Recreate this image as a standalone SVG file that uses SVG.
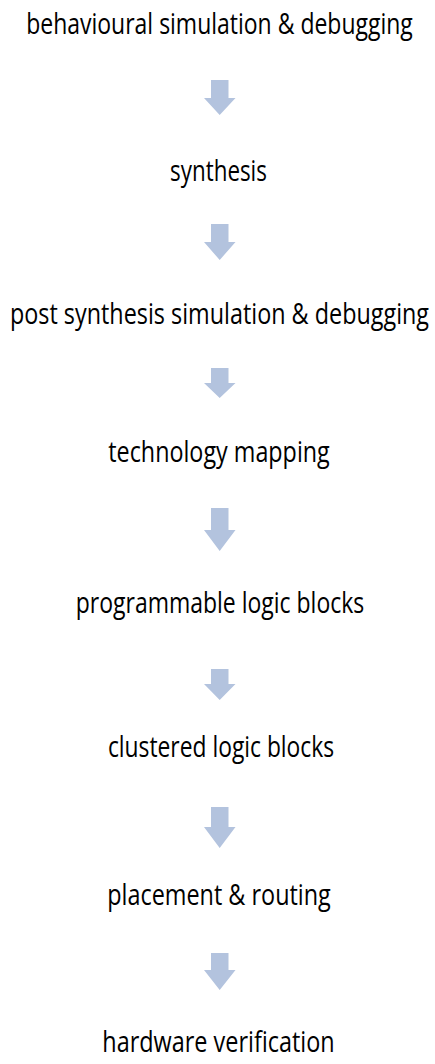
<svg xmlns="http://www.w3.org/2000/svg" width="435" height="1064" viewBox="0 0 435 1064">
  <style>
    .step { font-family: "Open Sans", "Liberation Sans", sans-serif; font-size: 28px; fill: #000000; text-anchor: middle; }
    .flow { fill: #b3c3de; stroke: none; }
  </style>
  <rect width="435" height="1064" fill="#ffffff"/>

  <!-- each step label is narrowed horizontally and slightly heightened for a condensed look -->
  <g id="node-behavioural">
    <text class="step" transform="translate(219.5 34) scale(0.821 1.06)">behavioural simulation &amp; debugging</text>
  </g>
  <g id="node-synthesis">
    <text class="step" transform="translate(218.5 180.5) scale(0.800 1.06)">synthesis</text>
  </g>
  <g id="node-post-synthesis">
    <text class="step" transform="translate(219.5 324) scale(0.835 1.06)">post synthesis simulation &amp; debugging</text>
  </g>
  <g id="node-technology-mapping">
    <text class="step" transform="translate(219 462) scale(0.833 1.06)">technology mapping</text>
  </g>
  <g id="node-programmable-logic">
    <text class="step" transform="translate(220 613) scale(0.821 1.06)">programmable logic blocks</text>
  </g>
  <g id="node-clustered-logic">
    <text class="step" transform="translate(221 757) scale(0.815 1.06)">clustered logic blocks</text>
  </g>
  <g id="node-placement-routing">
    <text class="step" transform="translate(219 905) scale(0.836 1.06)">placement &amp; routing</text>
  </g>
  <g id="node-hardware-verification">
    <text class="step" transform="translate(218.5 1052) scale(0.837 1.06)">hardware verification</text>
  </g>

  <g id="connectors">
    <!-- block arrows: shaft x 211..228.5, head x 204..235.5 -->
    <path class="flow" d="M211 80 H228.5 V98 H235.5 L219.7 115 L204 98 H211 Z"/>
    <path class="flow" d="M211 224 H228.5 V242 H235.5 L219.7 260 L204 242 H211 Z"/>
    <path class="flow" d="M211 368 H228.5 V383 H235.5 L219.7 398 L204 383 H211 Z"/>
    <path class="flow" d="M211 508 H228.5 V530 H235.5 L219.7 551 L204 530 H211 Z"/>
    <path class="flow" d="M211 669 H228.5 V684 H235.5 L219.7 700 L204 684 H211 Z"/>
    <path class="flow" d="M211 807 H228.5 V827 H235.5 L219.7 848 L204 827 H211 Z"/>
    <path class="flow" d="M211 953 H228.5 V970 H235.5 L219.7 990 L204 970 H211 Z"/>
  </g>
</svg>
